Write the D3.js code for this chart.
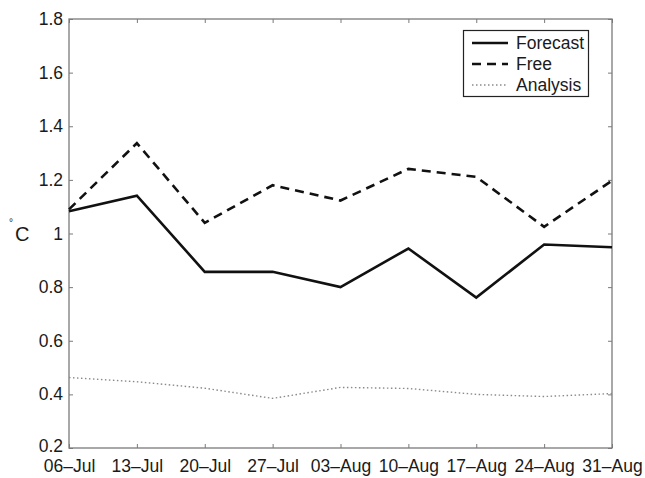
<!DOCTYPE html>
<html>
<head>
<meta charset="utf-8">
<script src="https://cdn.jsdelivr.net/npm/d3@7"></script>
<style>
  body { margin: 0; background: #fff; }
  text { font-family: "Liberation Sans", Arial, sans-serif; fill: #1a1a1a; }
</style>
</head>
<body>
<div class="chart"></div>
<script>
// data
const dates = ['06\u2013Jul','13\u2013Jul','20\u2013Jul','27\u2013Jul','03\u2013Aug','10\u2013Aug','17\u2013Aug','24\u2013Aug','31\u2013Aug'];
const forecast = [1.083, 1.141, 0.857, 0.857, 0.80, 0.944, 0.761, 0.959, 0.949];
const free = [1.09, 1.337, 1.04, 1.18, 1.123, 1.241, 1.211, 1.025, 1.197];
const analysis = [0.463, 0.447, 0.423, 0.385, 0.426, 0.422, 0.40, 0.392, 0.403];
const yTicks = [0.2, 0.4, 0.6, 0.8, 1, 1.2, 1.4, 1.6, 1.8];
const seriesNames = ['Forecast', 'Free', 'Analysis'];

const width = 645, height = 478;
const plot = {left: 69, right: 612, top: 19, bottom: 448};

const svg = d3.select(".chart").append("svg")
    .attr("width", width)
    .attr("height", height);

let xScale = d3.scalePoint()
    .domain(dates)
    .range([plot.left, plot.right]);

let yScale = d3.scaleLinear()
    .domain([0.2, 1.8])
    .range([plot.bottom, plot.top]);

const frameColor = '#7a7a7a';

// axes with inward ticks
let xAxis = d3.axisBottom(xScale).tickSizeInner(-4).tickSizeOuter(0).tickPadding(13.5);
let yAxis = d3.axisLeft(yScale).tickValues(yTicks).tickFormat(d3.format('')).tickSizeInner(-4).tickSizeOuter(0).tickPadding(6);

svg.append("g")
    .attr("class", "axis x-axis")
    .attr("transform", `translate(0, ${plot.bottom})`)
    .call(xAxis);

svg.append("g")
    .attr("class", "axis y-axis")
    .attr("transform", `translate(${plot.left}, 0)`)
    .call(yAxis);

// mirror ticks on top and right
svg.append("g")
    .attr("transform", `translate(0, ${plot.top})`)
    .call(d3.axisTop(xScale).tickSizeInner(-4).tickSizeOuter(0).tickFormat(''));
svg.append("g")
    .attr("transform", `translate(${plot.right}, 0)`)
    .call(d3.axisRight(yScale).tickValues(yTicks).tickSizeInner(-4).tickSizeOuter(0).tickFormat(''));

svg.selectAll('.domain').remove();
svg.selectAll('.tick line').attr('stroke', frameColor);
svg.selectAll('.tick text').style('font-size', '17.5px').attr('fill', '#1a1a1a');
svg.selectAll('.x-axis .tick text').attr('dy', '0.6em');
// keep the lowest y label clear of the first date
svg.selectAll('.y-axis .tick text').filter(d => d === 0.2).attr('y', -2);

svg.append('rect')
    .attr('x', plot.left)
    .attr('y', plot.top)
    .attr('width', plot.right - plot.left)
    .attr('height', plot.bottom - plot.top)
    .attr('fill', 'none')
    .attr('stroke', frameColor)
    .attr('stroke-width', 1.3);

// y label
svg.append('text')
    .attr('x', 15)
    .attr('y', 241)
    .style('font-size', '20px')
    .text('C');
svg.append('text')
    .attr('x', 9)
    .attr('y', 226)
    .style('font-size', '10px')
    .attr('fill', '#888')
    .text('\u00b0');

const line = d3.line()
    .x((d, i) => xScale(dates[i]))
    .y(d => yScale(d));

const styles = {
    Forecast: {data: forecast, stroke: '#111', width: 2.6, dash: null},
    Free: {data: free, stroke: '#111', width: 2.6, dash: '9,6'},
    Analysis: {data: analysis, stroke: '#8a8a8a', width: 1.4, dash: '1.5,2.5'}
};

seriesNames.forEach(name => {
    const s = styles[name];
    svg.append('path')
        .datum(s.data)
        .attr('d', line)
        .attr('fill', 'none')
        .attr('stroke', s.stroke)
        .attr('stroke-width', s.width)
        .attr('stroke-dasharray', s.dash);
});

// legend
const legend = svg.append('g');
legend.append('rect')
    .attr('x', 463.5)
    .attr('y', 30.5)
    .attr('width', 125)
    .attr('height', 66)
    .attr('fill', '#fff')
    .attr('stroke', '#222')
    .attr('stroke-width', 1.2);

seriesNames.forEach((name, i) => {
    const s = styles[name];
    const y = 43 + i * 21;
    legend.append('line')
        .attr('x1', 472).attr('x2', 508)
        .attr('y1', y).attr('y2', y)
        .attr('stroke', s.stroke)
        .attr('stroke-width', s.width)
        .attr('stroke-dasharray', s.dash);
    legend.append('text')
        .attr('x', 516)
        .attr('y', y + 6)
        .style('font-size', '17.5px')
        .text(name);
});
</script>
</body>
</html>
